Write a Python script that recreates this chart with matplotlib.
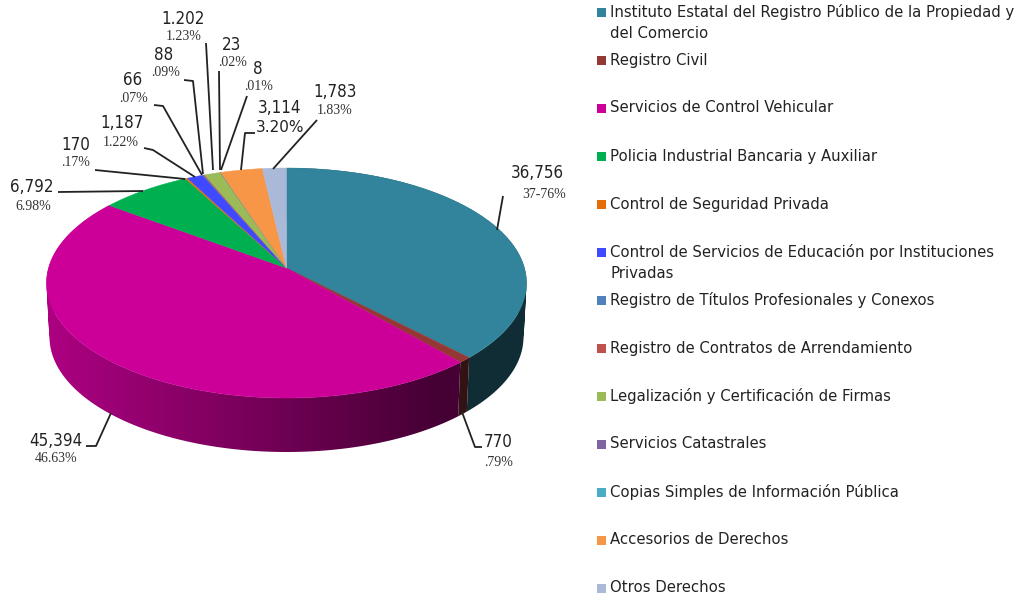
import numpy as np
import matplotlib
matplotlib.use("Agg")
import matplotlib.pyplot as plt
from matplotlib.patches import Polygon, Rectangle, PathPatch
from matplotlib.path import Path

categories = ["Instituto Estatal del Registro Público de la Propiedad y\ndel Comercio",
              "Registro Civil", "Servicios de Control Vehicular",
              "Policia Industrial Bancaria y Auxiliar", "Control de Seguridad Privada",
              "Control de Servicios de Educación por Instituciones\nPrivadas",
              "Registro de Títulos Profesionales y Conexos",
              "Registro de Contratos de Arrendamiento",
              "Legalización y Certificación de Firmas", "Servicios Catastrales",
              "Copias Simples de Información Pública", "Accesorios de Derechos", "Otros Derechos"]
values = [36756, 770, 45394, 6792, 170, 1187, 66, 88, 1202, 23, 8, 3114, 1783]
value_labels = ["36,756", "770", "45,394", "6,792", "170", "1,187", "66", "88", "1.202", "23", "8", "3,114", "1,783"]
pct_labels = ["37-76%", ".79%", "46.63%", "6.98%", ".17%", "1.22%", ".07%", ".09%", "1.23%", ".02%", ".01%", "3.20%", "1.83%"]
colors = ["#31849B", "#953735", "#CC0099", "#00B050", "#E46C0A", "#3F49FF", "#4F81BD",
          "#C0504D", "#9BBB59", "#8064A2", "#4BACC6", "#F79646", "#AAB9D7"]

# layout (pixel positions of labels and leaders)
value_pos = [(537, 173), (498, 442), (56, 441), (32, 187), (76, 145), (122, 123), (133, 80),
             (164, 55), (183, 19), (232, 45), (258, 69), (280, 108), (335, 92)]
pct_pos = [(544, 194), (499, 462), (56, 459), (33, 206), (76, 163), (121, 142), (134, 98),
           (166, 73), (184, 37), (233, 63), (259, 87), (280, 128), (335, 111)]
leaders = [[(497, 230), (503, 196)], [(462, 412), (475, 447), (482, 447)],
           [(111, 413), (96, 446), (86, 446)], [(143, 191), (58, 192)], [(185, 179), (95, 170)],
           [(195, 177), (153, 150), (144, 148)], [(202, 175), (163, 106), (154, 105)],
           [(203, 174), (193, 81), (184, 80)], [(213, 170), (206, 43)], [(220, 170), (219, 71)],
           [(221, 170), (247, 96)], [(241, 170), (245, 133), (255, 133)], [(273, 169), (317, 120)]]
legend_y = [12, 60, 108, 156, 204, 252, 300, 348, 396, 444, 492, 540, 588]

CX, CY, RX, RY = 286.5, 283, 240, 115
BX, BY, BRX, BRY = 286.5, 337, 237, 115
K = 0.13

plt.rcParams["font.family"] = "DejaVu Sans"
fig = plt.figure(figsize=(10.19, 6.01), dpi=100)
ax = fig.add_axes([0, 0, 1, 1])


def warp(t):
    x, y = np.sin(t), np.cos(t)
    d = 1 + K * y
    return x * np.sqrt(1 - K ** 2) / d, (y + K) / d


vals = np.array(values, float)
edges = 2 * np.pi * np.concatenate([[0], np.cumsum(vals)]) / vals.sum()
gx = np.linspace(0, 1019, 1020)
gf = np.clip(0.85 - (gx - 46) * 0.0013, 0.34, 0.85)

for i, col in enumerate(colors):
    ts = np.linspace(edges[i], edges[i + 1], max(3, int((edges[i + 1] - edges[i]) * 120)))
    u, v = warp(ts)
    if v.min() > 0.2:
        continue
    top = np.column_stack([CX + RX * u, CY - RY * v])
    bot = np.column_stack([BX + BRX * u, BY - BRY * v])
    quads = []
    for j in range(len(ts) - 1):
        q = np.array([top[j], top[j + 1], bot[j + 1], bot[j], top[j]])
        # keep every quad in one winding so that the union is filled
        area = np.sum(q[:-1, 0] * q[1:, 1] - q[1:, 0] * q[:-1, 1])
        quads.append(Path(q if area > 0 else q[::-1], closed=True))
    clip = PathPatch(Path.make_compound_path(*quads), facecolor="none", edgecolor="none",
                     transform=ax.transData)
    ax.add_patch(clip)
    rgb = np.array(matplotlib.colors.to_rgb(col))
    grad = (gf[:, None] * rgb)[None, :, :]
    im = ax.imshow(grad, extent=(0, 1019, 601, 0), aspect="auto", interpolation="bilinear", zorder=1)
    im.set_clip_path(clip)

for i, col in enumerate(colors):
    ts = np.linspace(edges[i], edges[i + 1], max(3, int((edges[i + 1] - edges[i]) * 120)))
    u, v = warp(ts)
    pts = [(CX, CY - RY * K)] + list(zip(CX + RX * u, CY - RY * v))
    ax.add_patch(Polygon(pts, closed=True, facecolor=col, edgecolor=col, lw=0.3, zorder=2))

for pts in leaders:
    xs, ys = zip(*pts)
    ax.plot(xs, ys, color="#222222", lw=1.3, solid_capstyle="butt", zorder=3)

for i in range(len(values)):
    x, y = value_pos[i]
    ax.text(x, y, value_labels[i], fontsize=12.2, color="#222222", ha="center", va="center",
            fontstretch="condensed", zorder=4)
    x, y = pct_pos[i]
    if pct_labels[i] == "3.20%":
        ax.text(x, y, pct_labels[i], fontsize=11, color="#222222", ha="center", va="center", zorder=4)
    else:
        ax.text(x, y, pct_labels[i], fontsize=10, family="Liberation Serif", color="#333333",
                ha="center", va="center", zorder=4)

for y, cat, col in zip(legend_y, categories, colors):
    ax.add_patch(Rectangle((597, y - 4.5), 9, 9, facecolor=col, edgecolor="none", zorder=2))
    ax.text(610.5, y - 7.5, cat, fontsize=10.7, color="#222222", ha="left", va="top",
            linespacing=1.42, zorder=4)

ax.set_xlim(0, 1019)
ax.set_ylim(601, 0)
ax.axis("off")
fig.savefig("out.png", dpi=100, facecolor="white")
